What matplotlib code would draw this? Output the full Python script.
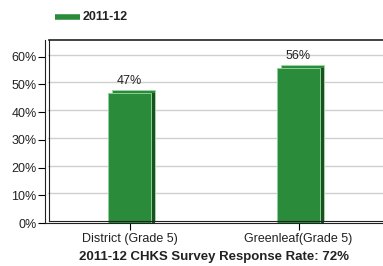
import matplotlib
matplotlib.use("Agg")
import matplotlib.pyplot as plt
from matplotlib.lines import Line2D
from matplotlib.transforms import offset_copy

# data
categories = ["District (Grade 5)", "Greenleaf(Grade 5)"]
values = [47, 56]
series_name = "2011-12"
y_ticks = [0, 10, 20, 30, 40, 50, 60]
footer = "2011-12 CHKS Survey Response Rate: 72%"

W, H = 383, 266
FRONT = "#2a8c3b"
SIDE = "#17521f"

plt.rcParams["font.family"] = ["Liberation Sans", "DejaVu Sans"]

fig = plt.figure(figsize=(W / 100, H / 100), dpi=100)


def fx(px):
    return px / W


def fy(py):
    return 1 - py / H


# axes: front-left spine at x=45, floor at y=223, top at y=40
ax = fig.add_axes([fx(45), fy(223), fx(W - 45), fy(40) - fy(223)])
ax.set_xlim(-0.5, 1.5)
ax.set_ylim(0, 66)

# grid lines on the back wall (shifted right / up)
grid_tr = offset_copy(ax.transData, fig=fig, x=3, y=2, units="dots")
for t in y_ticks[1:]:
    ax.plot([-0.5, 1.5], [t, t], color="#cfcfcf", lw=1.0,
            transform=grid_tr, zorder=0, clip_on=False)

x = list(range(len(categories)))
bw = 0.25

# 3D look: green top face (copy pushed right/up), dark side, then the front
top_tr = offset_copy(ax.transData, fig=fig, x=4, y=3, units="dots")
side_tr = offset_copy(ax.transData, fig=fig, x=4, y=0, units="dots")
ax.bar(x, values, width=bw, color=FRONT, edgecolor="#9fd6a6",
       linewidth=0.7, transform=top_tr, zorder=2)
ax.bar(x, values, width=bw, color=SIDE, linewidth=0,
       transform=side_tr, zorder=2.5)
ax.bar(x, values, width=bw, color=FRONT, edgecolor="#8fcf98",
       linewidth=0.7, zorder=3)

for xi, v in zip(x, values):
    ax.text(xi, v + 2.2, f"{v}%", ha="center", va="bottom",
            fontsize=9, color="#222222")

for s in ["top", "right"]:
    ax.spines[s].set_visible(False)
ax.spines["left"].set_color("#222222")
ax.spines["bottom"].set_color("#222222")
ax.set_yticks(y_ticks)
ax.set_yticklabels([f"{t}%" for t in y_ticks], fontsize=9, color="#222222")
ax.set_xticks(x)
ax.set_xticklabels(categories, fontsize=9, color="#222222")
ax.tick_params(axis="y", length=5, width=0.8, pad=1)
ax.tick_params(axis="x", length=5, width=0.8, pad=2)
ax.patch.set_alpha(0)

# back wall frame lines
fig.add_artist(Line2D([fx(48.5), fx(48.5)], [fy(221), fy(40)],
                      color="#222222", lw=0.8))
fig.add_artist(Line2D([fx(48.5), fx(W)], [fy(40), fy(40)],
                      color="#222222", lw=1.2))
fig.add_artist(Line2D([fx(48.5), fx(W)], [fy(220.5), fy(220.5)],
                      color="#222222", lw=0.8))

# legend
fig.add_artist(Line2D([fx(55), fx(80)], [fy(17), fy(17)],
                      color=FRONT, lw=4, solid_capstyle="butt"))
fig.text(fx(83), fy(17), series_name, ha="left", va="center",
         fontsize=9, fontweight="bold", color="#222222")

fig.text(fx(214), fy(257), footer, ha="center", va="center",
         fontsize=9.5, fontweight="bold", color="#222222")

fig.savefig("out.png", dpi=100)
